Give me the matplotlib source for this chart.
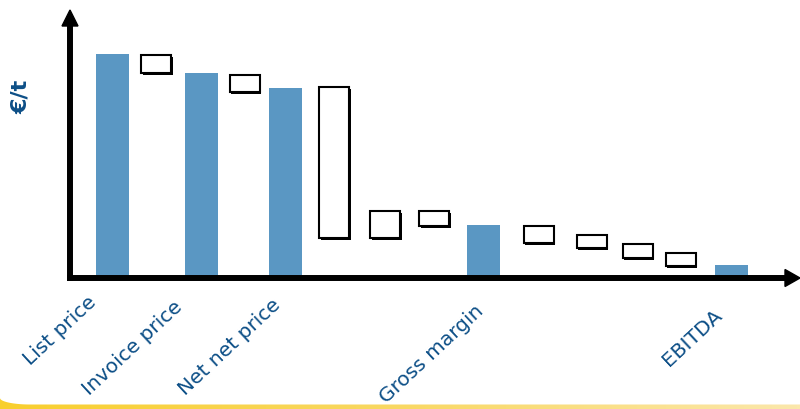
import matplotlib
matplotlib.use("Agg")
import matplotlib.pyplot as plt
import matplotlib.patheffects as pe
from matplotlib.colors import LinearSegmentedColormap
from matplotlib.patches import PathPatch, Polygon
from matplotlib.path import Path
import numpy as np

# waterfall columns, €/t (no scale shown on the axis)
labels = ["List price", "", "Invoice price", "", "Net net price", "", "", "",
          "Gross margin", "", "", "", "", "EBITDA"]
is_total = [True, False, True, False, True, False, False, False,
            True, False, False, False, False, True]
lows = [0, 205, 0, 186, 0, 40, 40, 52, 0, 35, 30, 20, 12, 0]
highs = [224, 223, 205, 203, 190, 191, 67, 67, 53, 52, 43, 34, 25, 13]

# layout (axes units are pixels, value 0 sits on the x axis)
col_x = [112.5, 156, 201.5, 244.5, 285.5, 334, 385, 434, 483.5, 538.5, 591.5, 637.5, 680.5, 731.5]
label_anchor = {"List price": (100, -15), "Invoice price": (186, -19),
                "Net net price": (284, -17), "Gross margin": (487, -23),
                "EBITDA": (726, -28)}

BAR_BLUE = "#5A97C3"
TEXT_BLUE = "#0D4F87"

fig = plt.figure(figsize=(8, 4.09), dpi=100, facecolor="white")

# yellow footer strip under a rounded white panel
bg = fig.add_axes([0, 0, 1, 1], zorder=0)
bg.set_xlim(0, 800)
bg.set_ylim(409, 0)
bg.axis("off")
t = np.linspace(np.pi, np.pi / 2, 30)
corner = np.column_stack([30 + 30 * np.cos(t), 398 + 6.5 * np.sin(t)])
strip = np.vstack([[[0, 380]], corner, [[800, 404.5], [800, 420], [0, 420]]])
strip_patch = PathPatch(Path(strip), facecolor="none", edgecolor="none")
bg.add_patch(strip_patch)
cmap = LinearSegmentedColormap.from_list("strip", ["#F8CF2E", "#F9D863", "#FBE7AB"])
grad = bg.imshow(np.linspace(0, 1, 256)[None, :], extent=[0, 800, 420, 380],
                 aspect="auto", cmap=cmap, zorder=1)
grad.set_clip_path(strip_patch)

ax = fig.add_axes([0, 0, 1, 1], zorder=1)
ax.patch.set_alpha(0)
ax.set_xlim(0, 800)
ax.set_ylim(-131, 278)
ax.axis("off")

box_fx = [pe.SimplePatchShadow(offset=(1.2, -1.2), shadow_rgbFace="black", alpha=1.0), pe.Normal()]
for x, lo, hi, tot in zip(col_x, lows, highs, is_total):
    if tot:
        ax.bar(x, hi - lo, bottom=lo, width=33, color=BAR_BLUE, zorder=2)
    else:
        b = ax.bar(x, hi - lo, bottom=lo, width=30, facecolor="white",
                   edgecolor="black", linewidth=1.5, zorder=3)
        for p in b.patches:
            p.set_path_effects(box_fx)

# axes with arrow heads
ax.plot([70, 70], [-3, 254], color="black", lw=4.3, solid_capstyle="butt", zorder=4)
ax.add_patch(Polygon([[62, 252], [78, 252], [70, 268]], closed=True, color="black", zorder=4))
ax.plot([67, 787], [0, 0], color="black", lw=4.3, solid_capstyle="butt", zorder=4)
ax.add_patch(Polygon([[785, 8.5], [785, -8.5], [800, 0]], closed=True, color="black", zorder=4))

ax.text(21, 181, "€/t", rotation=90, ha="center", va="center",
        fontsize=16, fontweight="bold", color=TEXT_BLUE)

for name in labels:
    if name:
        lx, ly = label_anchor[name]
        ax.text(lx, ly, name, rotation=43, ha="right", va="top",
                fontsize=14.5, color=TEXT_BLUE)

fig.savefig("out.png", dpi=100, facecolor="white")
